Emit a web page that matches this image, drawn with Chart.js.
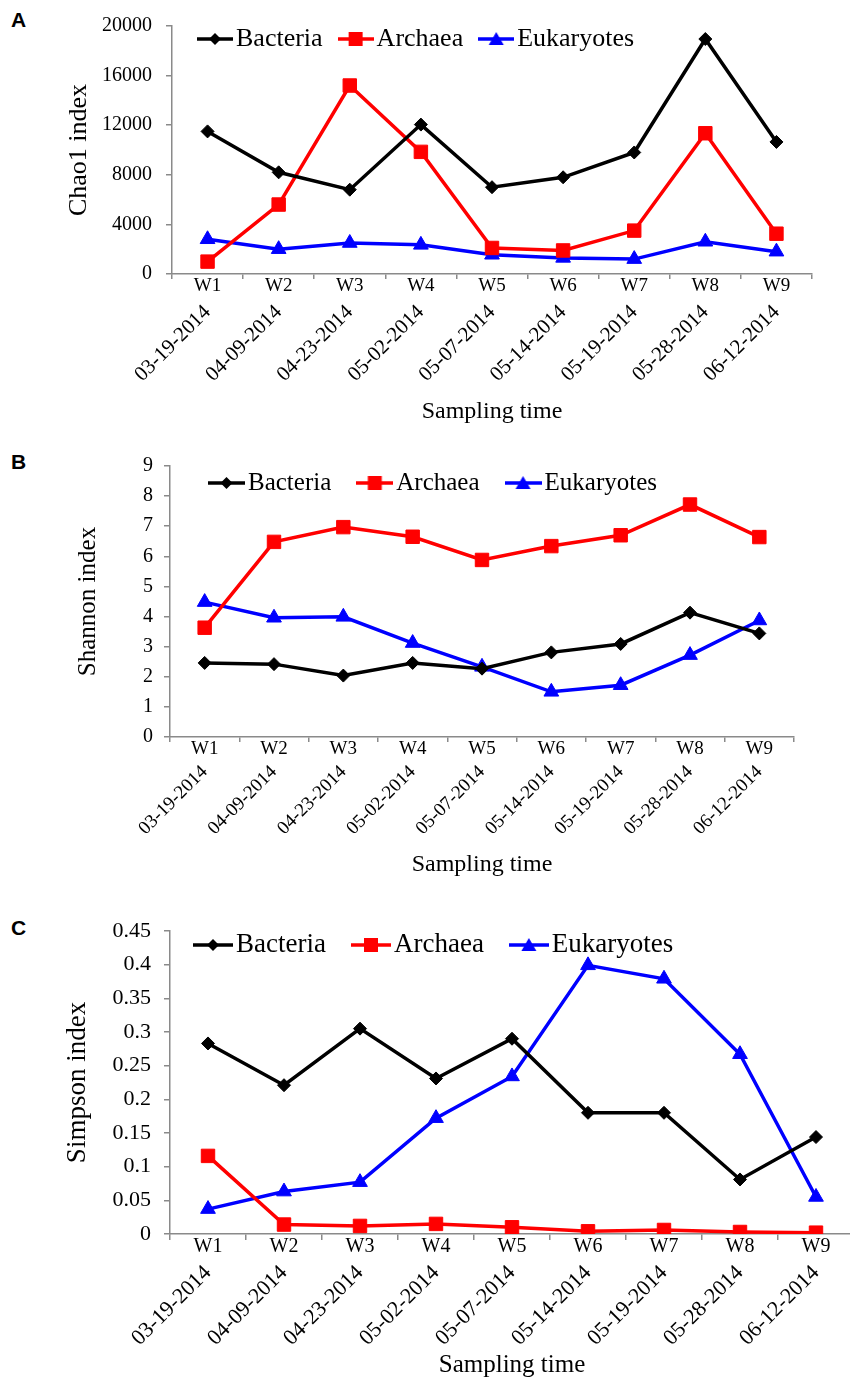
<!DOCTYPE html>
<html>
<head>
<meta charset="utf-8">
<script src="https://cdn.jsdelivr.net/npm/chart.js@4.4.1/dist/chart.umd.min.js"></script>
<style>
  html, body { margin: 0; padding: 0; background: #fff; }
  body { width: 850px; height: 1384px; position: relative; overflow: hidden; }
  canvas { position: absolute; left: 0; }
  .tag { position: absolute; left: 11px; font: bold 21px "Liberation Sans", Arial, sans-serif; color: #000; }
</style>
</head>
<body>
<div class="tag" style="top:8px">A</div>
<div class="tag" style="top:450px">B</div>
<div class="tag" style="top:916px">C</div>
<canvas id="chartA" width="850" height="430" style="top:0px"></canvas>
<canvas id="chartB" width="850" height="440" style="top:440px"></canvas>
<canvas id="chartC" width="870" height="484" style="top:900px"></canvas>
<script>
// categories
const weeks = ['W1', 'W2', 'W3', 'W4', 'W5', 'W6', 'W7', 'W8', 'W9'];
const dates = ['03-19-2014', '04-09-2014', '04-23-2014', '05-02-2014', '05-07-2014',
               '05-14-2014', '05-19-2014', '05-28-2014', '06-12-2014'];
const groups = ['Bacteria', 'Archaea', 'Eukaryotes'];

// A: Chao1 index
const chao1Bacteria   = [11500, 8200, 6800, 12050, 7000, 7800, 9800, 18950, 10650];
const chao1Archaea    = [1000, 5600, 15200, 9850, 2100, 1900, 3500, 11350, 3250];
const chao1Eukaryotes = [2800, 2000, 2500, 2350, 1550, 1300, 1200, 2600, 1800];

// B: Shannon index
const shannonBacteria   = [2.46, 2.42, 2.04, 2.46, 2.27, 2.81, 3.09, 4.13, 3.44];
const shannonArchaea    = [3.63, 6.48, 6.97, 6.65, 5.88, 6.34, 6.70, 7.72, 6.64];
const shannonEukaryotes = [4.48, 3.96, 3.99, 3.12, 2.33, 1.50, 1.72, 2.72, 3.87];

// C: Simpson index
const simpsonBacteria   = [0.283, 0.221, 0.305, 0.231, 0.290, 0.180, 0.180, 0.081, 0.144];
const simpsonArchaea    = [0.116, 0.014, 0.012, 0.015, 0.010, 0.004, 0.006, 0.003, 0.002];
const simpsonEukaryotes = [0.037, 0.063, 0.077, 0.172, 0.234, 0.399, 0.379, 0.267, 0.055];

const serif = '"Liberation Serif", "Times New Roman", serif';
const axisGray = '#8a8a8a';
const colors = ['#000000', '#ff0000', '#0000ff'];
const styles = ['rectRot', 'rect', 'triangle'];
const radii = [6.5, 9.5, 8.5];

Chart.defaults.font.family = serif;
Chart.defaults.color = '#000';

// small line+marker icon for the legend, like the Excel one
function makeMarker(style, color, w) {
    const c = document.createElement('canvas');
    c.width = w; c.height = 20;
    const g = c.getContext('2d');
    g.strokeStyle = color; g.fillStyle = color; g.lineWidth = 3.5;
    g.beginPath(); g.moveTo(0, 10); g.lineTo(w, 10); g.stroke();
    const cx = w / 2;
    g.beginPath();
    if (style === 'rectRot') {
        g.moveTo(cx, 4); g.lineTo(cx + 6, 10); g.lineTo(cx, 16); g.lineTo(cx - 6, 10);
    } else if (style === 'rect') {
        g.rect(cx - 7, 3, 14, 14);
    } else {
        g.moveTo(cx, 3); g.lineTo(cx + 7.5, 16); g.lineTo(cx - 7.5, 16);
    }
    g.closePath(); g.fill();
    return c;
}

// puts the legend inside the plot area at a fixed spot
const legendPlacer = {
    id: 'legendPlacer',
    afterLayout(chart, args, opts) {
        const lg = chart.legend;
        if (!lg) return;
        lg.left = opts.x;
        lg.top = opts.y;
        lg.right = chart.width;
        lg.bottom = opts.y + 80;
        lg.width = lg.right - lg.left;
        lg.height = 80;
    }
};

function makePanel(id, cfg) {
    const f = cfg.legendFont, w = cfg.markerW;
    const bw = 6 + w - f;                       // box width so text sits right after the icon
    const pad = cfg.legendGap + w / 2 - bw / 2;  // space between legend items
    const firstX = cfg.legendX - bw / 2 + w / 2;
    const markers = styles.map((s, i) => makeMarker(s, colors[i], w));

    const datasets = cfg.series.map((vals, i) => ({
        label: groups[i],
        data: vals,
        xAxisID: 'x',
        yAxisID: 'y',
        borderColor: colors[i],
        backgroundColor: colors[i],
        borderWidth: 3.5,
        pointStyle: styles[i],
        pointRadius: radii[i],
        pointBorderWidth: 1,
        pointBackgroundColor: colors[i],
        pointBorderColor: colors[i],
        tension: 0,
        fill: false
    }));

    new Chart(document.getElementById(id), {
        type: 'line',
        data: { datasets: datasets },
        plugins: [legendPlacer],
        options: {
            responsive: false,
            animation: false,
            devicePixelRatio: 1,
            layout: { padding: { top: cfg.padTop, right: cfg.padRight, bottom: 0, left: 0 } },
            plugins: {
                tooltip: { enabled: false },
                legendPlacer: { x: firstX - pad, y: cfg.legendY - pad - f / 2 },
                legend: {
                    position: 'top',
                    align: 'start',
                    maxHeight: 1,
                    labels: {
                        usePointStyle: true,
                        pointStyleWidth: bw,
                        padding: pad,
                        color: '#000',
                        font: { family: serif, size: f },
                        generateLabels(chart) {
                            return chart.data.datasets.map((ds, i) => ({
                                text: ds.label,
                                pointStyle: markers[i],
                                fillStyle: ds.borderColor,
                                strokeStyle: ds.borderColor,
                                fontColor: '#000',
                                lineWidth: 0,
                                hidden: false,
                                datasetIndex: i
                            }));
                        }
                    }
                }
            },
            scales: {
                x: {
                    type: 'category',
                    labels: weeks,
                    offset: true,
                    grid: { offset: true, drawOnChartArea: false, drawTicks: true, tickLength: cfg.xTick, color: axisGray, lineWidth: 1.5 },
                    border: { color: axisGray, width: 1.5 },
                    ticks: { color: '#000', font: { family: serif, size: cfg.weekFont }, padding: cfg.weekPad, minRotation: 0, maxRotation: 0, autoSkip: false },
                    afterFit(s) { s.height = cfg.weekH; }
                },
                x2: {
                    type: 'category',
                    position: 'bottom',
                    labels: dates,
                    offset: true,
                    grid: { display: false, drawTicks: false },
                    border: { display: false },
                    ticks: { color: '#000', font: { family: serif, size: cfg.dateFont }, padding: 0, minRotation: 45, maxRotation: 45, autoSkip: false },
                    title: {
                        display: true,
                        text: 'Sampling time',
                        color: '#000',
                        font: { family: serif, size: cfg.xTitleFont },
                        padding: { top: 0, bottom: cfg.xTitlePad }
                    },
                    afterFit(s) { s.height = cfg.dateH; }
                },
                y: {
                    min: cfg.yMin,
                    max: cfg.yMax,
                    border: { color: axisGray, width: 1.5 },
                    grid: { drawOnChartArea: false, drawTicks: true, tickLength: 6, color: axisGray, lineWidth: 1.5 },
                    ticks: {
                        stepSize: cfg.yStep,
                        padding: cfg.yTickPad,
                        color: '#000',
                        font: { family: serif, size: cfg.yFont },
                        callback: v => String(+Number(v).toFixed(3))
                    },
                    title: {
                        display: true,
                        text: cfg.yTitle,
                        color: '#000',
                        font: { family: serif, size: cfg.yTitleFont },
                        padding: { top: cfg.yTitlePad, bottom: 0 }
                    },
                    afterFit(s) { s.width = cfg.axisX; }
                }
            }
        }
    });
}

makePanel('chartA', {
    series: [chao1Bacteria, chao1Archaea, chao1Eukaryotes],
    yMin: 0, yMax: 20000, yStep: 4000, yTitle: 'Chao1 index',
    axisX: 172, padTop: 25, padRight: 38,
    weekH: 26, dateH: 130, xTick: 5, weekPad: -4,
    weekFont: 19, dateFont: 21, yFont: 20, yTickPad: 14,
    yTitleFont: 26, yTitlePad: 64, xTitleFont: 24, xTitlePad: 4,
    legendFont: 26, markerW: 36, legendGap: 15, legendX: 197, legendY: 39
});

makePanel('chartB', {
    series: [shannonBacteria, shannonArchaea, shannonEukaryotes],
    yMin: 0, yMax: 9, yStep: 1, yTitle: 'Shannon index',
    axisX: 170, padTop: 25, padRight: 56,
    weekH: 24, dateH: 119, xTick: 5, weekPad: -4,
    weekFont: 19, dateFont: 19, yFont: 20, yTickPad: 11,
    yTitleFont: 25, yTitlePad: 73, xTitleFont: 24, xTitlePad: 1,
    legendFont: 25, markerW: 37, legendGap: 25, legendX: 208, legendY: 43
});

makePanel('chartC', {
    series: [simpsonBacteria, simpsonArchaea, simpsonEukaryotes],
    yMin: 0, yMax: 0.45, yStep: 0.05, yTitle: 'Simpson index',
    axisX: 170, padTop: 30, padRight: 16,
    weekH: 26, dateH: 124, xTick: 6, weekPad: -5,
    weekFont: 20, dateFont: 22, yFont: 22, yTickPad: 13,
    yTitleFont: 27, yTitlePad: 62, xTitleFont: 25, xTitlePad: 4,
    legendFont: 27, markerW: 40, legendGap: 25, legendX: 193, legendY: 45
});
</script>
</body>
</html>
